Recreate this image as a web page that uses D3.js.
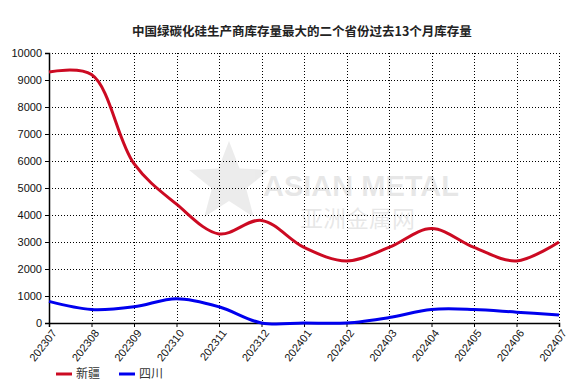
<!DOCTYPE html>
<html lang="zh">
<head>
<meta charset="UTF-8">
<title>中国绿碳化硅生产商库存量</title>
<script src="https://d3js.org/d3.v7.min.js"></script>
</head>
<body style="margin:0; background:#fff;">
<div id="chart"></div>
<script>
// data
const months = ["202307","202308","202309","202310","202311","202312","202401","202402","202403","202404","202405","202406","202407"];
const xinjiang = [9300, 9200, 5900, 4400, 3300, 3800, 2800, 2300, 2800, 3500, 2800, 2300, 3000];
const sichuan = [800, 500, 600, 900, 600, 0, 0, 0, 200, 500, 500, 400, 300];
const yTicks = [0,1000,2000,3000,4000,5000,6000,7000,8000,9000,10000];

const width = 577, height = 385;
const margin = { top: 53, right: 18, bottom: 62, left: 49 };
const innerW = width - margin.left - margin.right;
const innerH = height - margin.top - margin.bottom;

const svg = d3.select("#chart").append("svg")
  .attr("width", width)
  .attr("height", height)
  .style("font-family", "Arial, 'Liberation Sans', sans-serif");

// title
svg.append("text")
  .attr("x", 302)
  .attr("y", 36)
  .attr("text-anchor", "middle")
  .style("font-family", "'Noto Sans CJK SC', sans-serif")
  .style("font-size", "12.5px")
  .style("font-weight", "bold")
  .attr("fill", "#222")
  .text("中国绿碳化硅生产商库存量最大的二个省份过去13个月库存量");

const g = svg.append("g").attr("transform", `translate(${margin.left},${margin.top})`);

const x = d3.scalePoint().domain(months).range([0, innerW]);
const y = d3.scaleLinear().domain([0, 10000]).range([innerH, 0]);

// watermark
const wm = g.append("g").attr("opacity", 0.11);
const star = d3.range(10).map(i => {
  const r = i % 2 ? 18 : 42;
  const a = -Math.PI / 2 + i * Math.PI / 5;
  return [180 + r * Math.cos(a), 130 + r * Math.sin(a)];
});
wm.append("polygon").attr("points", star.map(p => p.join(",")).join(" ")).attr("fill", "#555");
wm.append("text").attr("x", 214).attr("y", 143)
  .style("font-size", "29px").style("font-weight", "bold").attr("fill", "#333")
  .text("ASIAN METAL");
wm.append("text").attr("x", 251).attr("y", 174)
  .style("font-family", "'Noto Sans CJK SC', sans-serif")
  .style("font-size", "23px").attr("fill", "#333")
  .text("亚洲金属网");

// grid
g.selectAll(".hgrid").data(yTicks.filter(d => d > 0)).enter().append("line")
  .attr("class", "hgrid")
  .attr("x1", 0).attr("x2", innerW)
  .attr("y1", d => Math.round(y(d)) + 0.5).attr("y2", d => Math.round(y(d)) + 0.5)
  .attr("stroke", "#000").attr("stroke-width", 1).attr("stroke-dasharray", "1,2")
  .attr("shape-rendering", "crispEdges");
g.selectAll(".vgrid").data(months.slice(1)).enter().append("line")
  .attr("class", "vgrid")
  .attr("x1", d => Math.round(x(d)) + 0.5).attr("x2", d => Math.round(x(d)) + 0.5)
  .attr("y1", 0).attr("y2", innerH)
  .attr("stroke", "#000").attr("stroke-width", 1).attr("stroke-dasharray", "1,2")
  .attr("shape-rendering", "crispEdges");

// axes
const yAxis = g.append("g")
  .call(d3.axisLeft(y).tickValues(yTicks).tickFormat(d3.format("d")).tickSizeOuter(0).tickSize(4));
yAxis.selectAll("text").style("font-size", "11px").attr("fill", "#111");

const xAxis = g.append("g").attr("transform", `translate(0,${innerH})`)
  .call(d3.axisBottom(x).tickSizeOuter(0).tickSize(4));
xAxis.selectAll("text")
  .style("font-size", "11px").attr("fill", "#111")
  .attr("text-anchor", "end")
  .attr("dx", "-0.3em").attr("dy", "0.5em")
  .attr("transform", "rotate(-52)");
g.selectAll(".domain").attr("stroke", "#000").attr("stroke-width", 1.5);

// lines
const line = d3.line()
  .x((d, i) => x(months[i]))
  .y(d => y(d))
  .curve(d3.curveCatmullRom.alpha(0.5));

g.append("path").datum(sichuan)
  .attr("fill", "none").attr("stroke", "#0000ee").attr("stroke-width", 3)
  .attr("d", line);
g.append("path").datum(xinjiang)
  .attr("fill", "none").attr("stroke", "#cc0a22").attr("stroke-width", 3)
  .attr("d", line);

// legend
const legend = [{ name: "新疆", color: "#cc0a22", x: 56 }, { name: "四川", color: "#0000ee", x: 119 }];
const lg = svg.selectAll(".legend").data(legend).enter().append("g")
  .attr("transform", d => `translate(${d.x},374)`);
lg.append("line").attr("x1", 0).attr("x2", 16).attr("y1", 0).attr("y2", 0)
  .attr("stroke", d => d.color).attr("stroke-width", 3);
lg.append("text").attr("x", 20).attr("y", 4)
  .style("font-family", "'Noto Sans CJK SC', sans-serif")
  .style("font-size", "12px").attr("fill", "#333")
  .text(d => d.name);
</script>
</body>
</html>
